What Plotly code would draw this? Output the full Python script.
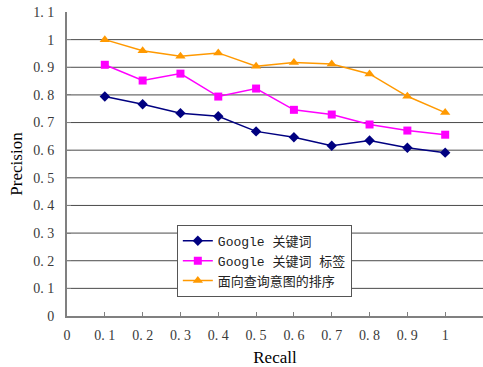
import plotly.graph_objects as go

recall = [0.1, 0.2, 0.3, 0.4, 0.5, 0.6, 0.7, 0.8, 0.9, 1.0]
google_kw = [0.794, 0.766, 0.734, 0.723, 0.668, 0.647, 0.616, 0.635, 0.609, 0.591]
google_kw_tag = [0.909, 0.852, 0.877, 0.794, 0.823, 0.746, 0.729, 0.693, 0.671, 0.656]
intent_rank = [1.0, 0.960, 0.940, 0.952, 0.904, 0.917, 0.912, 0.876, 0.795, 0.736]

x_ticks = [0, 0.1, 0.2, 0.3, 0.4, 0.5, 0.6, 0.7, 0.8, 0.9, 1.0]
x_ticklabels = ["0", "0. 1", "0. 2", "0. 3", "0. 4", "0. 5", "0. 6", "0. 7", "0. 8", "0. 9", "1"]
y_ticks = [0, 0.1, 0.2, 0.3, 0.4, 0.5, 0.6, 0.7, 0.8, 0.9, 1.0, 1.1]
y_ticklabels = ["0", "0. 1", "0. 2", "0. 3", "0. 4", "0. 5", "0. 6", "0. 7", "0. 8", "0. 9", "1", "1. 1"]
grid_levels = [0.1, 0.2, 0.3, 0.4, 0.5, 0.6, 0.7, 0.8, 0.9, 1.0]

legend_font = "Liberation Mono, Noto Sans CJK SC, monospace"
tick_font = "Liberation Serif, Noto Sans CJK SC, serif"

fig = go.Figure()
fig.add_trace(go.Scatter(
    x=recall, y=google_kw, name="Google 关键词", mode="lines+markers",
    line=dict(color="#000080", width=1.5),
    marker=dict(symbol="diamond", size=8, color="#000080"),
))
fig.add_trace(go.Scatter(
    x=recall, y=google_kw_tag, name="Google 关键词 标签", mode="lines+markers",
    line=dict(color="#FF00FF", width=1.5),
    marker=dict(symbol="square", size=8, color="#FF00FF"),
))
fig.add_trace(go.Scatter(
    x=recall, y=intent_rank, name="面向查询意图的排序", mode="lines+markers",
    line=dict(color="#FF9900", width=1.5),
    marker=dict(symbol="triangle-up", size=9, color="#FF9900"),
))

# horizontal gridlines at 0.1 .. 1.0 (none on the top edge at 1.1)
shapes = [
    dict(type="line", xref="paper", yref="y", x0=0, x1=1, y0=g, y1=g,
         line=dict(color="#4a4a4a", width=1), layer="below")
    for g in grid_levels
]

fig.update_layout(
    width=483, height=367,
    margin=dict(l=67, r=0, t=12, b=51),
    paper_bgcolor="white", plot_bgcolor="white",
    shapes=shapes,
    showlegend=True,
    legend=dict(
        x=0.264, y=0.300, xanchor="left", yanchor="top",
        bgcolor="white", bordercolor="#555555", borderwidth=1,
        font=dict(family=legend_font, size=13, color="#222222"),
        itemwidth=30, tracegroupgap=0,
    ),
    xaxis=dict(
        range=[0, 1.1], tickvals=x_ticks, ticktext=x_ticklabels,
        showgrid=False, zeroline=False,
        showline=True, linecolor="#808080", linewidth=2,
        ticks="inside", ticklen=4, tickcolor="#808080",
        ticklabelstandoff=5,
        tickfont=dict(family=tick_font, size=14, color="#3a3a3a"),
        title=dict(text="Recall", font=dict(family="Liberation Serif", size=17, color="black"), standoff=12),
    ),
    yaxis=dict(
        range=[0, 1.1], tickvals=y_ticks, ticktext=y_ticklabels,
        showgrid=False, zeroline=False,
        showline=True, linecolor="#808080", linewidth=2,
        ticks="inside", ticklen=4, tickcolor="#808080",
        ticklabelstandoff=8,
        tickfont=dict(family=tick_font, size=14, color="#3a3a3a"),
        title=dict(text="Precision", font=dict(family="Liberation Serif", size=17, color="black"), standoff=6),
    ),
)

fig.write_html("out.html")
